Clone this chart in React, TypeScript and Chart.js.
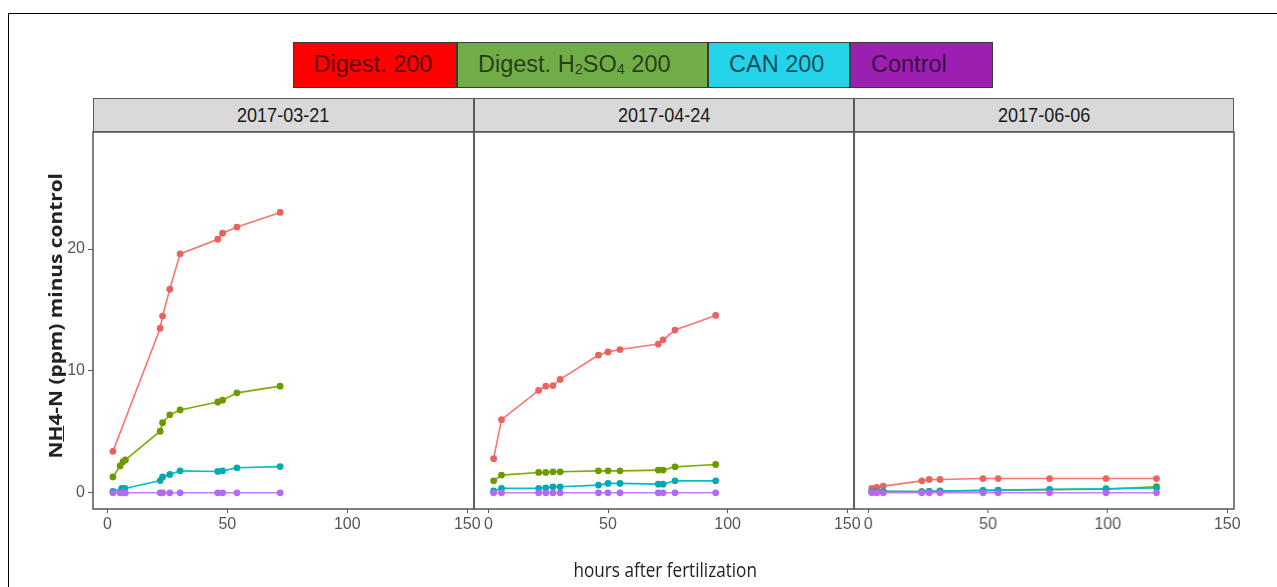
import React, { useEffect, useLayoutEffect, useRef } from "react";
import { Chart, registerables } from "chart.js";

Chart.register(...registerables);

// ---------- data ----------
const seriesNames = ["Digest. 200", "Digest. H2SO4 200", "CAN 200", "Control"];
const facetLabels = ["2017-03-21", "2017-04-24", "2017-06-06"];
const xTickValues = [0, 50, 100, 150];
const yTickValues = [0, 10, 20];

// 2017-03-21
const mar21DigestHours = [2.3, 22, 23, 26, 30.3, 46, 48, 54, 72];
const mar21DigestNH4 = [3.4, 13.5, 14.5, 16.7, 19.6, 20.8, 21.3, 21.8, 23.0];
const mar21H2so4Hours = [2.3, 5.3, 6.5, 7.5, 22, 23, 26, 30.3, 46, 48, 54, 72];
const mar21H2so4NH4 = [1.3, 2.2, 2.55, 2.7, 5.05, 5.75, 6.4, 6.8, 7.45, 7.6, 8.2, 8.75];
const mar21CanHours = [2.3, 6, 7.3, 22, 23, 26, 30.3, 46, 48, 54, 72];
const mar21CanNH4 = [0.12, 0.35, 0.35, 1.0, 1.3, 1.5, 1.8, 1.75, 1.8, 2.05, 2.15];
const mar21ControlHours = [2.3, 5.3, 6.5, 7.5, 22, 23, 26, 30.3, 46, 48, 54, 72];
const mar21ControlNH4 = [0, 0, 0, 0, 0, 0, 0, 0, 0, 0, 0, 0];

// 2017-04-24
const apr24Hours = [2.2, 5.5, 21, 24, 27, 30, 46, 50, 55, 71, 73, 78, 95];
const apr24DigestNH4 = [2.8, 6.0, 8.4, 8.75, 8.8, 9.3, 11.3, 11.55, 11.75, 12.2, 12.55, 13.35, 14.55];
const apr24H2so4NH4 = [0.98, 1.45, 1.67, 1.67, 1.72, 1.72, 1.8, 1.8, 1.8, 1.86, 1.86, 2.13, 2.32];
const apr24CanNH4 = [0.16, 0.36, 0.36, 0.41, 0.49, 0.49, 0.63, 0.77, 0.77, 0.71, 0.71, 0.98, 0.98];
const apr24ControlNH4 = [0, 0, 0, 0, 0, 0, 0, 0, 0, 0, 0, 0, 0];

// 2017-06-06
const jun06Hours = [1.4, 3.5, 6.2, 22.3, 25.4, 29.9, 47.9, 54.2, 75.7, 99.3, 120.4];
const jun06DigestNH4 = [0.36, 0.44, 0.55, 0.98, 1.09, 1.09, 1.17, 1.17, 1.17, 1.17, 1.17];
const jun06H2so4NH4 = [0.05, 0.08, 0.1, 0.1, 0.12, 0.14, 0.18, 0.2, 0.25, 0.3, 0.5];
const jun06CanNH4 = [0.08, 0.1, 0.12, 0.1, 0.12, 0.15, 0.2, 0.22, 0.28, 0.33, 0.4];
const jun06ControlNH4 = [0, 0, 0, 0, 0, 0, 0, 0, 0, 0, 0];

// ---------- styles ----------
const lineColors = ["#F8766D", "#7CAE00", "#00BFC4", "#C77CFF"];
const pointColors = ["#E8635C", "#6A9A00", "#00AAB0", "#B46AF0"];
const legendFills = ["#FF0000", "#70AD47", "#22D3EA", "#9B1FB0"];
const legendEdges = [292.5, 457, 708, 850, 993];

const panelLefts = [93, 474, 854];
const panelRights = [474, 854, 1233.5];
const plotTop = 132;
const plotBottom = 509;
const padTop = 4;
const xAxisH = 30;
const sidePad = 16;
const yAxisW = 36;

const X_MIN = -6;
const X_MAX = 152.8;
const Y_MIN = -1.33;
const Y_MAX = 29.6;

const tickFont = {
  family: '"Liberation Sans Narrow", "Arial Narrow", "Liberation Sans", Arial, sans-serif',
  size: 16,
};

const pairs = (xs: number[], ys: number[]) => xs.map((x, i) => ({ x, y: ys[i] }));

const panelSeries = [
  [
    pairs(mar21DigestHours, mar21DigestNH4),
    pairs(mar21H2so4Hours, mar21H2so4NH4),
    pairs(mar21CanHours, mar21CanNH4),
    pairs(mar21ControlHours, mar21ControlNH4),
  ],
  [
    pairs(apr24Hours, apr24DigestNH4),
    pairs(apr24Hours, apr24H2so4NH4),
    pairs(apr24Hours, apr24CanNH4),
    pairs(apr24Hours, apr24ControlNH4),
  ],
  [
    pairs(jun06Hours, jun06DigestNH4),
    pairs(jun06Hours, jun06H2so4NH4),
    pairs(jun06Hours, jun06CanNH4),
    pairs(jun06Hours, jun06ControlNH4),
  ],
];

const boxPlugin = {
  id: "panelBox",
  afterDraw(chart: any) {
    const { ctx, chartArea: a } = chart;
    ctx.save();
    ctx.strokeStyle = "#555555";
    ctx.lineWidth = 1.5;
    ctx.strokeRect(a.left, a.top, a.right - a.left, a.bottom - a.top);
    ctx.restore();
  },
};

function Stretch({ width, children, style }: { width: number; children: any; style?: any }) {
  const ref = useRef<HTMLSpanElement>(null);
  useLayoutEffect(() => {
    const el = ref.current;
    if (!el) return;
    el.style.transform = "none";
    const w = el.offsetWidth;
    if (w > 0) el.style.transform = `scaleX(${width / w})`;
  }, [width]);
  return (
    <span
      ref={ref}
      style={{ display: "inline-block", whiteSpace: "nowrap", transformOrigin: "center", ...style }}
    >
      {children}
    </span>
  );
}

function Panel({ index }: { index: number }) {
  const ref = useRef<HTMLCanvasElement>(null);
  const first = index === 0;
  const leftPad = first ? yAxisW : sidePad;
  const left = panelLefts[index] - leftPad;
  const width = panelRights[index] - panelLefts[index] + leftPad + sidePad;
  const top = plotTop - padTop;
  const height = padTop + (plotBottom - plotTop) + xAxisH;

  useEffect(() => {
    if (!ref.current) return;
    const chart = new Chart(ref.current, {
      type: "line",
      data: {
        datasets: panelSeries[index].map((pts, s) => ({
          label: seriesNames[s],
          data: pts,
          borderColor: lineColors[s],
          backgroundColor: pointColors[s],
          pointBackgroundColor: pointColors[s],
          pointBorderColor: pointColors[s],
          pointRadius: 3.4,
          pointBorderWidth: 0,
          borderWidth: 1.6,
          tension: 0,
          fill: false,
          order: 3 - s,
        })),
      },
      options: {
        animation: false,
        responsive: false,
        maintainAspectRatio: false,
        devicePixelRatio: 1,
        layout: {
          autoPadding: false,
          padding: { top: padTop, bottom: 0, left: first ? 0 : sidePad, right: sidePad },
        },
        plugins: { legend: { display: false }, tooltip: { enabled: false } },
        scales: {
          x: {
            type: "linear",
            min: X_MIN,
            max: X_MAX,
            afterBuildTicks: (s: any) => {
              s.ticks = xTickValues.map((v) => ({ value: v }));
            },
            afterFit: (s: any) => {
              s.height = xAxisH;
              s.paddingLeft = 0;
              s.paddingRight = 0;
            },
            grid: { display: true, drawOnChartArea: false, drawTicks: true, tickLength: 4, color: "#555555", lineWidth: 1 },
            border: { display: false },
            ticks: { font: tickFont, color: "#555555", padding: 2, maxRotation: 0, autoSkip: false },
          },
          y: {
            type: "linear",
            display: first,
            min: Y_MIN,
            max: Y_MAX,
            afterBuildTicks: (s: any) => {
              s.ticks = yTickValues.map((v) => ({ value: v }));
            },
            afterFit: (s: any) => {
              s.width = first ? yAxisW : 0;
              s.paddingTop = 0;
              s.paddingBottom = 0;
            },
            grid: { display: true, drawOnChartArea: false, drawTicks: true, tickLength: 5, color: "#555555", lineWidth: 1 },
            border: { display: false },
            ticks: { font: tickFont, color: "#555555", padding: 3, autoSkip: false },
          },
        },
      },
      plugins: [boxPlugin],
    } as any);
    return () => chart.destroy();
  }, [index]);

  return (
    <canvas
      ref={ref}
      width={width}
      height={height}
      style={{ position: "absolute", left, top, width, height }}
    />
  );
}

export default function App() {
  const sub = { fontSize: "0.62em", verticalAlign: "-0.15em" };
  const legendLabels = [
    <>Digest. 200</>,
    <>
      Digest. H<sub style={sub}>2</sub>SO<sub style={sub}>4</sub> 200
    </>,
    <>CAN 200</>,
    <>Control</>,
  ];
  return (
    <div
      style={{
        position: "fixed",
        left: 0,
        top: 0,
        width: 1277,
        height: 587,
        overflow: "hidden",
        background: "#ffffff",
        fontFamily: '"Liberation Sans", Arial, sans-serif',
      }}
    >
      {/* outer frame */}
      <div
        style={{
          position: "absolute",
          left: 8,
          top: 13,
          width: 1400,
          height: 700,
          border: "1px solid #000",
          boxSizing: "border-box",
        }}
      />

      {/* legend */}
      {seriesNames.map((name, i) => (
        <div
          key={name}
          style={{
            position: "absolute",
            left: legendEdges[i],
            top: 41.5,
            width: legendEdges[i + 1] - legendEdges[i],
            height: 46,
            background: legendFills[i],
            border: "1.5px solid #3a3a3a",
            boxSizing: "border-box",
            display: "flex",
            alignItems: "center",
            paddingLeft: 20,
            fontSize: 23.5,
            color: "rgba(0,0,0,0.66)",
            whiteSpace: "nowrap",
          }}
        >
          <span>{legendLabels[i]}</span>
        </div>
      ))}

      {/* strips */}
      {facetLabels.map((lab, i) => (
        <div
          key={lab}
          style={{
            position: "absolute",
            left: panelLefts[i],
            top: 98,
            width: panelRights[i] - panelLefts[i],
            height: plotTop - 98,
            background: "#D9D9D9",
            border: "1.5px solid #5a5a5a",
            boxSizing: "border-box",
            display: "flex",
            alignItems: "center",
            justifyContent: "center",
            color: "#1a1a1a",
          }}
        >
          <Stretch
            width={92}
            style={{ fontFamily: tickFont.family, fontSize: 20, lineHeight: "20px" }}
          >
            {lab}
          </Stretch>
        </div>
      ))}

      {/* panels */}
      {[0, 1, 2].map((i) => (
        <Panel key={i} index={i} />
      ))}

      {/* y title */}
      <div
        style={{
          position: "absolute",
          left: 55 - 200,
          top: 316 - 12,
          width: 400,
          height: 24,
          transform: "rotate(-90deg)",
          display: "flex",
          alignItems: "center",
          justifyContent: "center",
        }}
      >
        <Stretch
          width={285}
          style={{
            fontFamily: '"Open Sans", "DejaVu Sans", sans-serif',
            fontWeight: 700,
            fontSize: 18,
            lineHeight: "24px",
            color: "#222",
          }}
        >
          N<span style={{ textDecoration: "underline" }}>H</span>4-N (ppm) minus control
        </Stretch>
      </div>

      {/* x title */}
      <div
        style={{
          position: "absolute",
          left: 465,
          top: 556,
          width: 400,
          height: 28,
          display: "flex",
          alignItems: "center",
          justifyContent: "center",
        }}
      >
        <Stretch
          width={183}
          style={{
            fontFamily: '"Open Sans", "Liberation Sans", sans-serif',
            fontSize: 20,
            lineHeight: "28px",
            color: "#222",
          }}
        >
          hours after fertilization
        </Stretch>
      </div>
    </div>
  );
}
